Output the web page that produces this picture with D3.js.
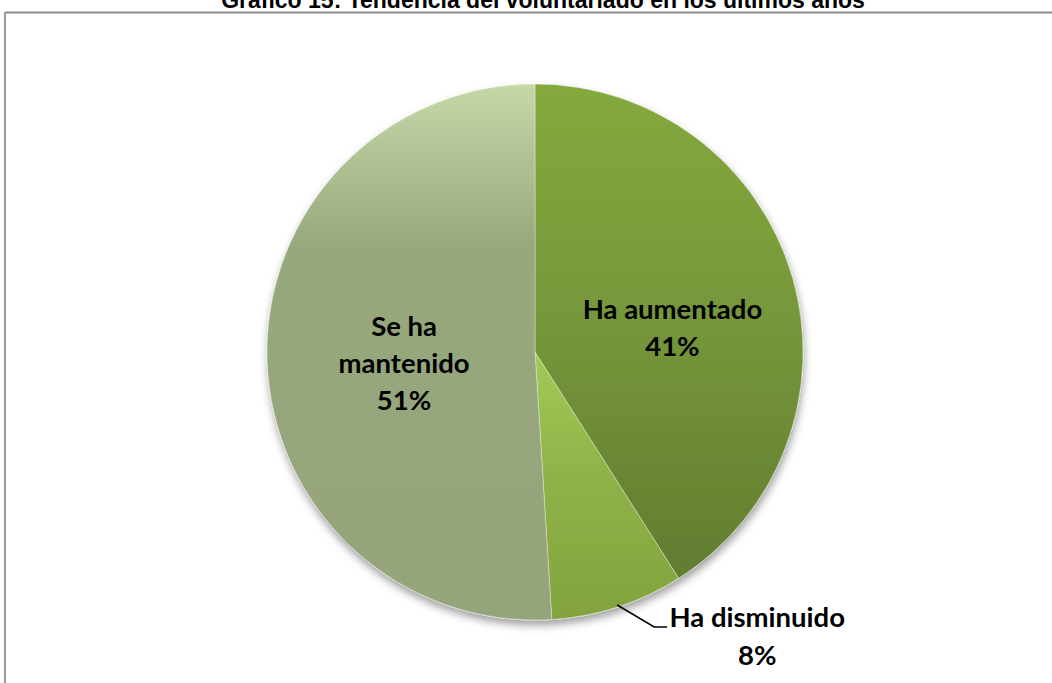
<!DOCTYPE html>
<html>
<head>
<meta charset="utf-8">
<script src="https://cdn.jsdelivr.net/npm/d3@7"></script>
<style>
  html, body { margin: 0; padding: 0; background: #fff; }
  svg { display: block; }
</style>
</head>
<body>
<svg id="chart" width="1052" height="683"></svg>
<script>
const title = "Gráfico 15: Tendencia del voluntariado en los últimos años";
const categories = ["Ha aumentado", "Ha disminuido", "Se ha mantenido"];
const values = [41, 8, 51];
const labelLines = [["Ha aumentado", "41%"], ["Ha disminuido", "8%"], ["Se ha", "mantenido", "51%"]];

const W = 1052, H = 683;
const cx = 535, cy = 352, R = 268;
const svg = d3.select("#chart");
const defs = svg.append("defs");

const grads = [
  [["0%", "#84a93c"], ["50%", "#75963a"], ["100%", "#627c2f"]],
  [["0%", "#a2cb58"], ["45%", "#8fb348"], ["100%", "#82a33e"]],
  [["0%", "#c6d8a8"], ["30%", "#98a87d"], ["100%", "#95a47a"]]
];
grads.forEach((g, i) => {
  const lg = defs.append("linearGradient").attr("id", "g" + i)
    .attr("x1", 0).attr("y1", 0).attr("x2", 0).attr("y2", 1);
  g.forEach(s => lg.append("stop").attr("offset", s[0]).attr("stop-color", s[1]));
});
const f = defs.append("filter").attr("id", "shadow")
  .attr("x", "-10%").attr("y", "-10%").attr("width", "120%").attr("height", "125%");
f.append("feDropShadow").attr("dx", 1).attr("dy", 5).attr("stdDeviation", 4)
  .attr("flood-color", "#000").attr("flood-opacity", 0.38);

// border
svg.append("line").attr("x1", 5).attr("x2", W).attr("y1", 12.5).attr("y2", 12.5)
  .attr("stroke", "#8c8c8c").attr("stroke-width", 2);
svg.append("line").attr("x1", 5).attr("x2", 5).attr("y1", 12).attr("y2", H)
  .attr("stroke", "#999").attr("stroke-width", 2);

// title
svg.append("text").attr("x", 543).attr("y", 8).attr("text-anchor", "middle")
  .attr("font-family", "Liberation Sans, Arial, sans-serif").attr("font-weight", "bold")
  .attr("font-size", 23).attr("fill", "#000").text(title);

const data = categories.map((c, i) => ({ name: c, value: values[i], lines: labelLines[i] }));
const pie = d3.pie().sort(null).value(d => d.value).startAngle(0).endAngle(2 * Math.PI);
const arcs = pie(data);
const arc = d3.arc().innerRadius(0).outerRadius(R);

const g = svg.append("g").attr("transform", `translate(${cx},${cy})`);
g.append("g").attr("filter", "url(#shadow)")
  .selectAll("path").data(arcs).join("path")
  .attr("d", arc)
  .attr("fill", (d, i) => `url(#g${i})`)
  .attr("stroke", "rgba(255,255,255,0.45)").attr("stroke-width", 0.8);

const font = "Lato, 'Open Sans', sans-serif";
const fs = 27.5;
const lineH = 37;
const labelArc = d3.arc().innerRadius(140).outerRadius(140);
const xOffs = { 0: 3, 2: 9 };

[0, 2].forEach(i => {
  const d = arcs[i];
  const [x0, y] = labelArc.centroid(d);
  const x = x0 + xOffs[i];
  const n = d.data.lines.length;
  const yOff = i === 0 ? 16 : 8;
  const t = g.append("text").attr("text-anchor", "middle")
    .attr("font-family", font).attr("font-weight", "bold").attr("font-size", fs).attr("fill", "#000");
  d.data.lines.forEach((ln, k) => {
    t.append("tspan").attr("x", x).attr("y", y + yOff + (k - (n - 1) / 2) * lineH + 9).text(ln);
  });
});

{
  const d = arcs[1];
  const a = (d.startAngle + d.endAngle) / 2;
  const p0 = [Math.sin(a) * (R - 2), -Math.cos(a) * (R - 2)];
  const p1 = [p0[0] + 37, p0[1] + 22];
  const p2 = [p1[0] + 13, p1[1]];
  g.append("polyline").attr("points", [p0, p1, p2].map(p => p.join(",")).join(" "))
    .attr("fill", "none").attr("stroke", "#000").attr("stroke-width", 1.5);
  const lx = p2[0] + 90, ly = p2[1];
  const t = g.append("text").attr("text-anchor", "middle")
    .attr("font-family", font).attr("font-weight", "bold").attr("font-size", fs).attr("fill", "#000");
  d.data.lines.forEach((ln, k) => {
    t.append("tspan").attr("x", lx).attr("y", ly + k * (lineH + 1)).text(ln);
  });
}
</script>
</body>
</html>
